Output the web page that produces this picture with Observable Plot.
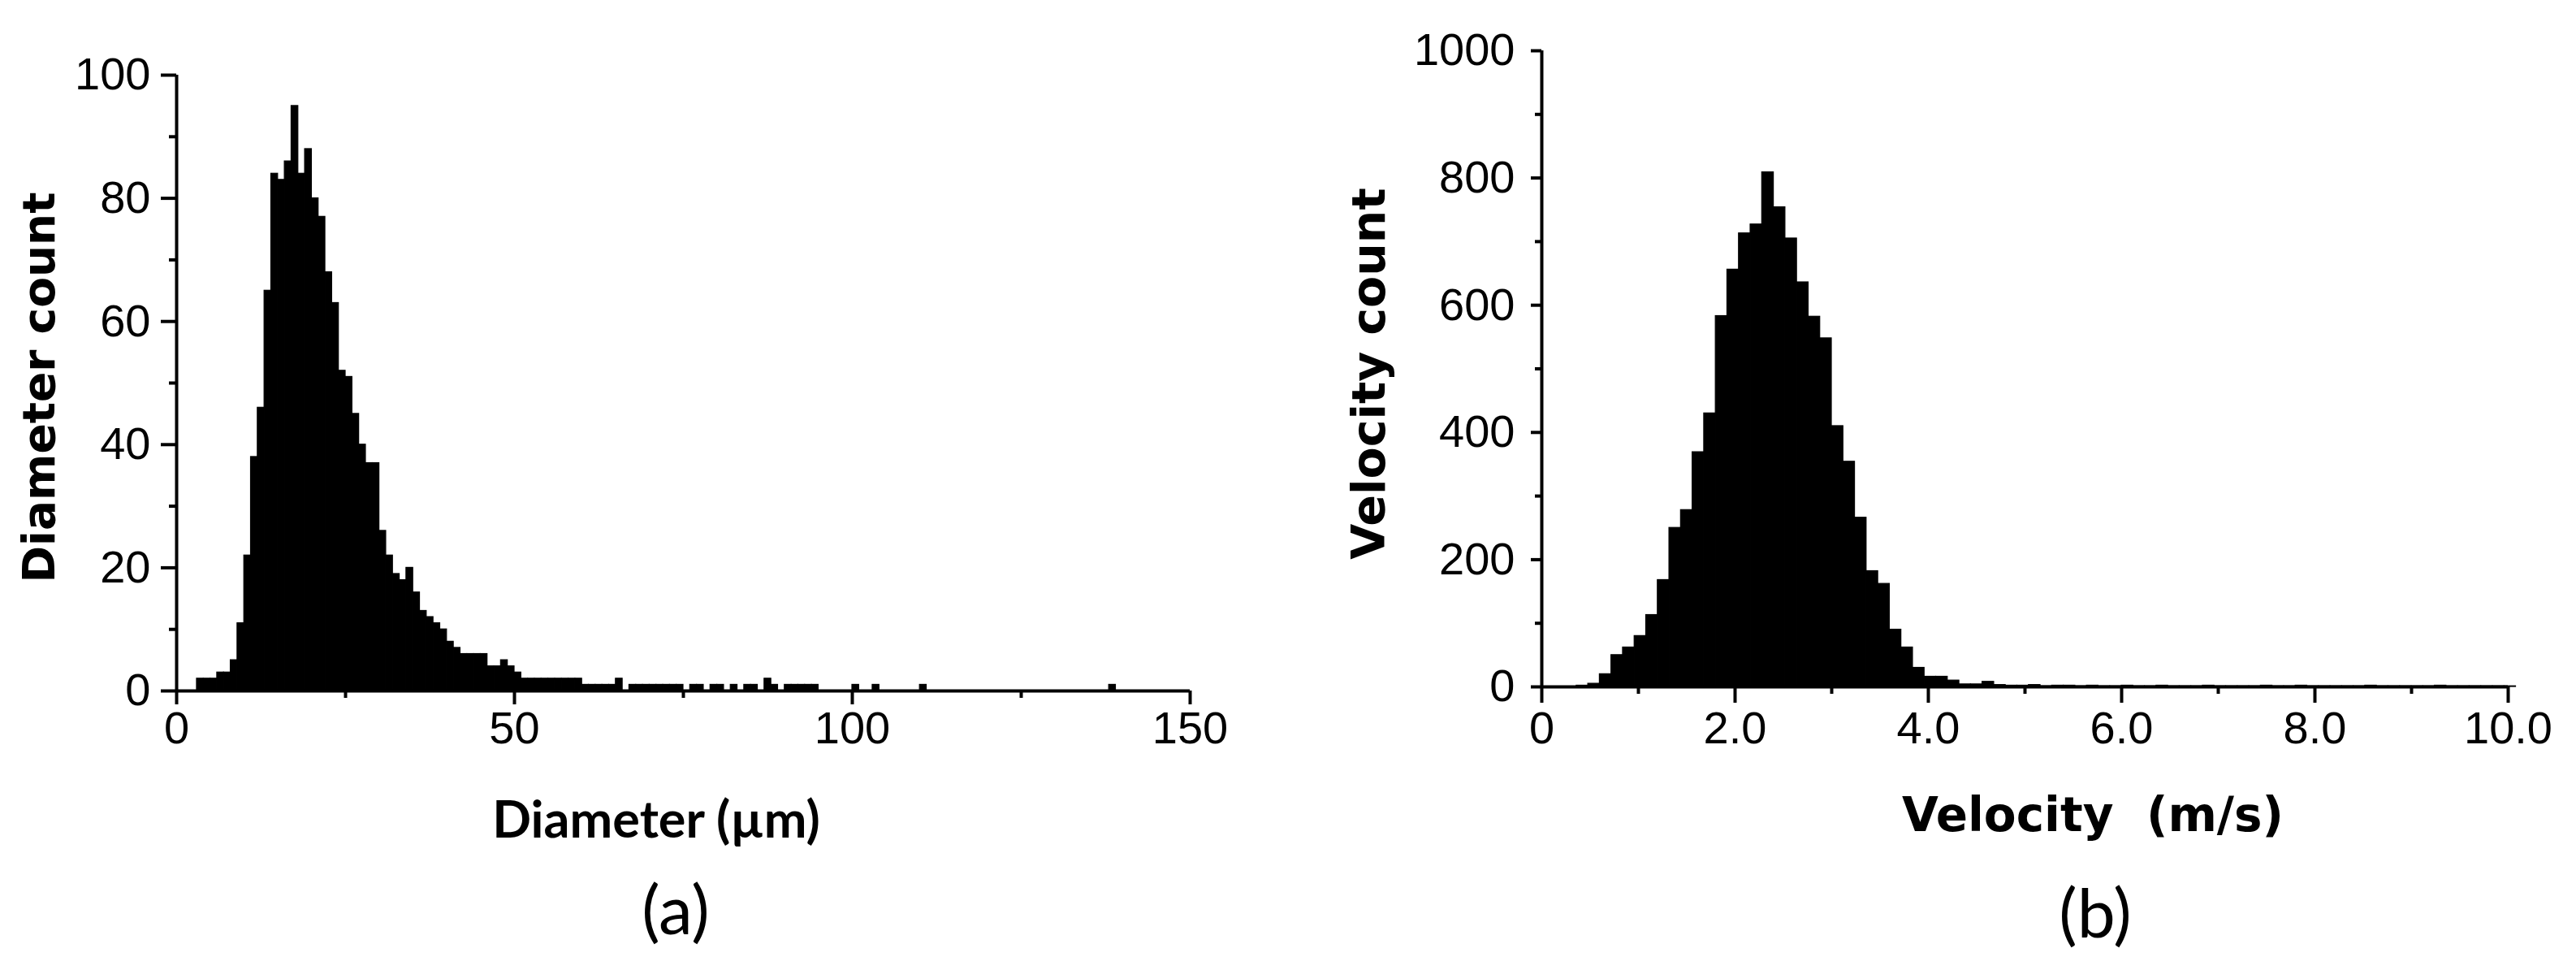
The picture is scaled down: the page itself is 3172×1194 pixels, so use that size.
<!DOCTYPE html>
<html><head><meta charset="utf-8">
<script src="https://cdn.jsdelivr.net/npm/d3@7"></script>
<script src="https://cdn.jsdelivr.net/npm/@observablehq/plot@0.6"></script>
<style>
body{margin:0;background:#fff;}
#wrap{position:relative;width:3172px;height:1194px;overflow:hidden;background:#fff;}
.chart{position:absolute;top:0;}
.lbl{position:absolute;white-space:nowrap;color:#000;transform:translate(-50%,-50%);line-height:1;}
</style></head><body><div id="wrap"></div>
<script>
// ---------- Panel (a): diameter histogram, 1 µm bins starting at 0 µm ----------
const diameterBinWidth = 1;
const diameterCounts = [
  0,0,0,2,2,2,3,3,5,11,            // 0-9
  22,38,46,65,84,83,86,95,84,88,   // 10-19
  80,77,68,63,52,51,45,40,37,37,   // 20-29
  26,22,19,18,20,16,13,12,11,10,   // 30-39
  8,7,6,6,6,6,4,4,5,4,             // 40-49
  3,2,2,2,2,2,2,2,2,2,             // 50-59
  1,1,1,1,1,2,0,1,1,1,             // 60-69
  1,1,1,1,1,0,1,1,0,1,             // 70-79
  1,0,1,0,1,1,0,2,1,0,             // 80-89
  1,1,1,1,1,0,0,0,0,0,             // 90-99
  1,0,0,1,0,0,0,0,0,0,             // 100-109
  1,0,0,0,0,0,0,0,0,0,             // 110-119
  0,0,0,0,0,0,0,0,0,0,             // 120-129
  0,0,0,0,0,0,0,0,1,0              // 130-139
];
const diameterMajorTicks = [0, 50, 100, 150];
const diameterMinorTicks = [25, 75, 125];
const diameterCountMajorTicks = [0, 20, 40, 60, 80, 100];
const diameterCountMinorTicks = [10, 30, 50, 70, 90];

// ---------- Panel (b): velocity histogram, 0.12 m/s bins starting at 0 ----------
const velocityBinWidth = 0.12;
const velocityCounts = [
  0,0,0,2,5,20,50,62,80,113,                 // 0.00-1.08
  168,250,278,369,430,583,656,713,727,809,   // 1.20-2.28
  754,705,636,582,548,410,354,266,182,162,   // 2.40-3.48
  90,62,30,16,16,10,4,4,8,3,                 // 3.60-4.68
  2,2,3,1,2,2,1,2,1,1,                       // 4.80-5.88
  2,1,1,2,1,1,1,2,1,1,                       // 6.00-7.08
  1,1,2,1,1,2,1,1,1,1,                       // 7.20-8.28
  1,2,1,1,1,1,1,2,1,1,                       // 8.40-9.48
  1,1,1,1                                    // 9.60-9.96
];
const velocityMajorTicks = [0, 2, 4, 6, 8, 10];
const velocityMinorTicks = [1, 3, 5, 7, 9];
const velocityCountMajorTicks = [0, 200, 400, 600, 800, 1000];
const velocityCountMinorTicks = [100, 300, 500, 700, 900];

const diameterBins = diameterCounts.map((c, i) => ({x1: i * diameterBinWidth, x2: (i + 1) * diameterBinWidth, count: c}));
const velocityBins = velocityCounts.map((c, i) => ({x1: i * velocityBinWidth, x2: (i + 1) * velocityBinWidth, count: c}));

const wrap = document.getElementById("wrap");
const tickFont = {fontFamily: "'Liberation Sans', Arial, sans-serif", fontSize: "56px", color: "#000", background: "transparent", overflow: "visible"};

const plotA = Plot.plot({
  width: 1580, height: 960,
  marginLeft: 217, marginRight: 115, marginTop: 92, marginBottom: 110,
  style: tickFont,
  x: {domain: [0, 150]},
  y: {domain: [0, 100]},
  marks: [
    Plot.rectY(diameterBins, {x1: "x1", x2: "x2", y: "count", fill: "#000", stroke: "#000", strokeWidth: 1.2, inset: 0}),
    Plot.axisX({ticks: diameterMajorTicks, tickSize: 17, tickPadding: 8, strokeWidth: 4, label: null}),
    Plot.axisX({ticks: diameterMinorTicks, tickSize: 9, text: null, strokeWidth: 4, label: null}),
    Plot.axisY({ticks: diameterCountMajorTicks, tickSize: 19, tickPadding: 13, strokeWidth: 4, label: null}),
    Plot.axisY({ticks: diameterCountMinorTicks, tickSize: 9, text: null, strokeWidth: 4, label: null}),
    Plot.ruleX([0], {strokeWidth: 4}),
    Plot.ruleY([0], {strokeWidth: 4})
  ]
});
plotA.classList.add("chart");
plotA.style.left = "0px";
wrap.appendChild(plotA);

const plotB = Plot.plot({
  width: 1586, height: 960,
  marginLeft: 312, marginRight: 84, marginTop: 62, marginBottom: 115,
  style: tickFont,
  x: {domain: [0, 10]},
  y: {domain: [0, 1000]},
  marks: [
    Plot.rectY(velocityBins, {x1: "x1", x2: "x2", y: "count", fill: "#000", stroke: "#000", strokeWidth: 1.2, inset: 0}),
    Plot.axisX({ticks: velocityMajorTicks, tickSize: 20, tickPadding: 10, strokeWidth: 4, label: null,
      tickFormat: d => d === 0 ? "0" : d.toFixed(1)}),
    Plot.axisX({ticks: velocityMinorTicks, tickSize: 9, text: null, strokeWidth: 4, label: null}),
    Plot.axisY({ticks: velocityCountMajorTicks, tickSize: 13, tickPadding: 20, strokeWidth: 4, label: null,
      tickFormat: d => String(d)}),
    Plot.axisY({ticks: velocityCountMinorTicks, tickSize: 8, text: null, strokeWidth: 4, label: null}),
    Plot.ruleX([0], {strokeWidth: 4}),
    Plot.ruleY([0], {strokeWidth: 4})
  ]
});
plotB.classList.add("chart");
plotB.style.left = "1586px";
wrap.appendChild(plotB);

function label(text, x, y, css, rotate) {
  const d = document.createElement("div");
  d.className = "lbl";
  d.textContent = text;
  d.style.left = x + "px";
  d.style.top = y + "px";
  Object.assign(d.style, css);
  if (rotate) d.style.transform = "translate(-50%,-50%) rotate(-90deg)";
  wrap.appendChild(d);
}
const boldWide = {fontFamily: "'DejaVu Sans', Verdana, sans-serif", fontWeight: "bold", fontSize: "55px"};
const boldNarrow = {fontFamily: "Lato, 'Open Sans', sans-serif", fontWeight: "bold", fontSize: "63px"};
const panelFont = {fontFamily: "Lato, 'Open Sans', sans-serif", fontWeight: "normal", fontSize: "84px"};

label("Diameter count", 48, 477, boldWide, true);
label("Velocity count", 1685, 460, Object.assign({}, boldWide, {fontSize: "57px"}), true);
label("Diameter (µm)", 808, 1006, boldNarrow, false);
label("Velocity  (m/s)", 2577, 1003, Object.assign({}, boldWide, {fontSize: "58px", whiteSpace: "pre"}), false);
label("(a)", 832, 1118, panelFont, false);
label("(b)", 2580, 1122, panelFont, false);
</script></body></html>
